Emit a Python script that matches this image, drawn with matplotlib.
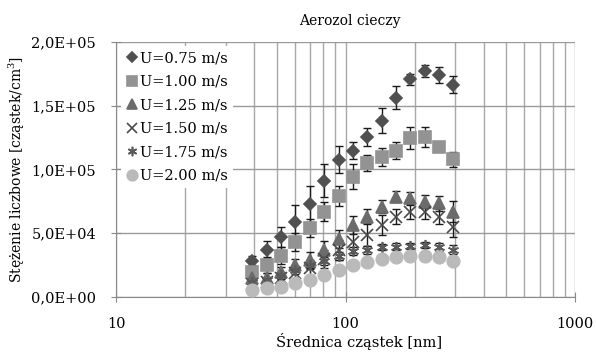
import matplotlib.pyplot as plt
from matplotlib.ticker import FuncFormatter, LogLocator, NullFormatter

plt.rcParams['font.family'] = ['DejaVu Serif']
plt.rcParams['mathtext.fontset'] = 'dejavuserif'

# Średnice cząstek [nm]
srednica = [39.2, 45.3, 52.3, 60.4, 69.8, 80.6, 93.1, 107.5, 124.1, 143.3,
            165.5, 191.1, 220.7, 254.8, 294.3]

u075 = [28000, 37000, 47300, 59100, 73000, 91000, 107500, 114800, 125300, 138300,
        156300, 170700, 177000, 174000, 166500]
err075 = [4000, 6500, 7800, 13000, 14300, 13000, 10500, 7000, 7000, 9700,
          9200, 4200, 4500, 6300, 7000]

u100 = [19900, 25100, 32500, 43000, 53900, 66900, 79000, 94400, 104900, 109600,
        114800, 124500, 125300, 117900, 108000]
err100 = [5000, 6000, 6500, 7000, 7000, 7500, 7800, 9700, 6000, 7000,
          7000, 8500, 7800, 3000, 6000]

u125 = [14600, 15000, 19900, 25100, 29000, 36900, 45500, 56500, 63000, 70800,
        78700, 77400, 74800, 73500, 66900]
err125 = [3000, 3500, 4000, 5000, 6000, 7000, 7000, 7000, 6000, 5000,
          4000, 5000, 5000, 6000, 8000]

u150 = [10000, 12000, 15000, 19000, 23000, 30000, 37000, 43400, 48600, 56500,
        63000, 66900, 66900, 63000, 55000]
err150 = [3000, 3500, 4000, 5000, 6000, 7000, 8000, 9000, 9000, 8000,
          6000, 6000, 5500, 6000, 8000]

u175 = [12000, 13000, 17000, 21000, 25000, 28000, 32000, 36000, 37000, 39000,
        39500, 40000, 40800, 39000, 37000]
err175 = [2000, 2000, 2500, 3000, 3000, 3000, 3000, 3000, 3000, 2500,
          2500, 2500, 2500, 3000, 3500]

u200 = [5500, 6800, 8100, 11200, 13300, 17300, 21200, 25100, 27700, 29600,
        31100, 32200, 32200, 31100, 28500]
err200 = [1500, 1500, 1500, 2000, 2000, 2000, 2500, 2500, 2500, 2500,
          2500, 2500, 2500, 2500, 2500]

serie = [
    ('U=0.75 m/s', u075, err075, 'D', '#505050', 6.5),
    ('U=1.00 m/s', u100, err100, 's', '#939393', 8.5),
    ('U=1.25 m/s', u125, err125, '^', '#6c6c6c', 8),
    ('U=1.50 m/s', u150, err150, 'x', '#4a4a4a', 8),
    ('U=1.75 m/s', u175, err175, (6, 2, 0), '#5a5a5a', 8),
    ('U=2.00 m/s', u200, err200, 'o', '#bababa', 9),
]

fig = plt.figure(figsize=(5.96, 3.54), dpi=100)
ax = fig.add_axes([0.195, 0.161, 0.77, 0.721])

uchwyty = []
for nazwa, y, e, m, kolor, ms in serie:
    ax.errorbar(srednica, y, yerr=e, fmt='none', ecolor='#1a1a1a',
                elinewidth=1, capsize=3, capthick=1, zorder=3)
    h, = ax.plot(srednica, y, ls='none', marker=m, color=kolor, ms=ms,
                 mew=1.2, label=nazwa, zorder=4)
    uchwyty.append(h)

ax.set_xscale('log')
ax.set_xlim(10, 1000)
ax.set_ylim(0, 200000)
ax.set_yticks([0, 50000, 100000, 150000, 200000])
ax.yaxis.set_major_formatter(FuncFormatter(lambda v, p: f'{v:.1E}'.replace('.', ',')))
ax.xaxis.set_major_formatter(FuncFormatter(lambda v, p: f'{v:.0f}'))
ax.xaxis.set_minor_locator(LogLocator(base=10, subs=range(2, 10)))
ax.xaxis.set_minor_formatter(NullFormatter())

ax.grid(True, which='major', axis='y', color='#9a9a9a', lw=1)
ax.grid(True, which='both', axis='x', color='#a8a8a8', lw=1)
ax.set_axisbelow(True)

for s in ['top', 'right']:
    ax.spines[s].set_visible(False)
for s in ['left', 'bottom']:
    ax.spines[s].set_color('#8a8a8a')
ax.tick_params(which='major', direction='inout', length=7, color='#8a8a8a',
               labelsize=10.5)
ax.tick_params(axis='y', pad=11)
ax.tick_params(axis='x', pad=11)
ax.tick_params(which='minor', length=0)

ax.set_title('Aerozol cieczy', fontsize=10, pad=12, x=0.51)
ax.set_xlabel('Średnica cząstek [nm]', fontsize=10.5, labelpad=1)
ax.xaxis.label.set_x(0.53)
ax.set_ylabel('Stężenie liczbowe [cząstek/cm$^{3}$]', fontsize=10, labelpad=3)

leg = ax.legend(handles=uchwyty, loc='upper left', fontsize=10.5,
                frameon=True, facecolor='white', edgecolor='none', framealpha=1,
                handlelength=0.8, handletextpad=0.2, labelspacing=0.65,
                borderpad=0.35, borderaxespad=0.3, markerscale=0.85)
leg.set_zorder(5)

fig.savefig('out.png', dpi=100)
